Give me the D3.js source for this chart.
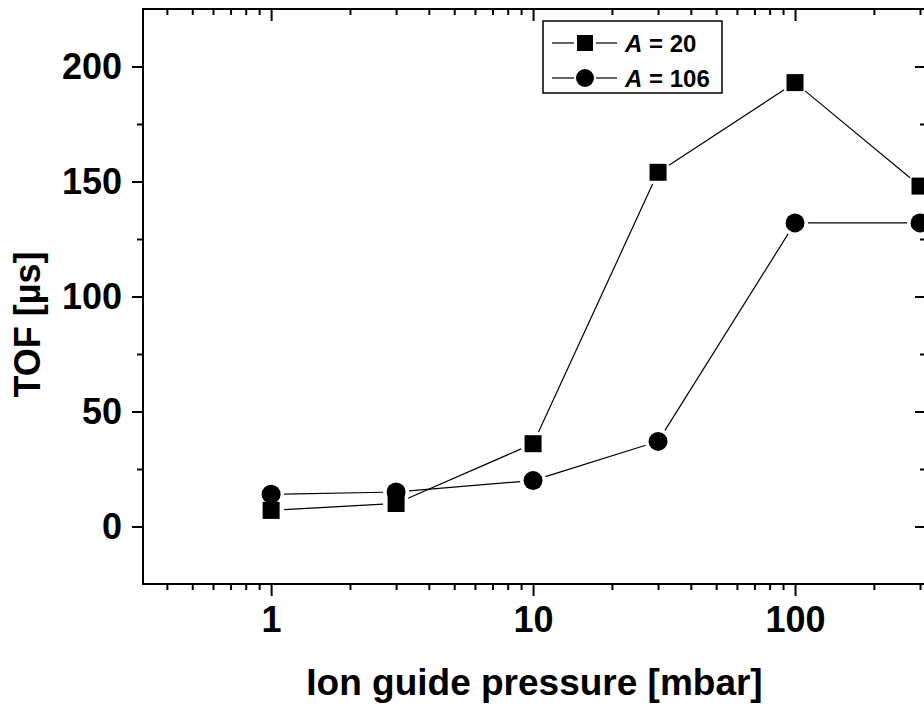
<!DOCTYPE html>
<html>
<head>
<meta charset="utf-8">
<script src="https://cdn.jsdelivr.net/npm/d3@7"></script>
<style>
  body { margin: 0; background: #fff; }
  svg { display: block; }
  text { font-family: "Liberation Sans", Arial, sans-serif; font-weight: bold; fill: #000; }
</style>
</head>
<body>
<div id="chart"></div>
<script>
// pressures (mbar) and TOF values (µs)
let pressure = [1, 3, 10, 30, 100, 300];
let tofA20 = [7, 10, 36, 154, 193, 148];
let tofA106 = [14, 15, 20, 37, 132, 132];

let xMajor = [1, 10, 100];
let xMinor = [0.4, 0.5, 0.6, 0.7, 0.8, 0.9, 2, 3, 4, 5, 6, 7, 8, 9,
  20, 30, 40, 50, 60, 70, 80, 90, 200, 300];
let yMajor = [0, 50, 100, 150, 200];
let yMinor = [25, 75, 125, 175];

let series = [
  { name: "20", values: tofA20, shape: "square" },
  { name: "106", values: tofA106, shape: "circle" }
];

let areaWidth = 924;
let areaHeight = 707;
let border = { top: 9, left: 143, right: 926, bottom: 584 };

let svg = d3.select("#chart").append("svg")
  .attr("width", areaWidth)
  .attr("height", areaHeight);

let x = d3.scaleLog().domain([0.3243, 316.2]).range([border.left, border.right]);
let y = d3.scaleLinear().domain([-25, 225]).range([border.bottom, border.top]);

function styleAxis(g) {
  g.select(".domain").remove();
  g.selectAll(".tick line").attr("stroke", "#000").attr("stroke-width", 2);
  g.selectAll(".tick text").style("font-size", "36px");
}

// bottom axis
svg.append("g").attr("transform", `translate(0,${border.bottom})`)
  .call(d3.axisBottom(x).tickValues(xMinor).tickSize(6).tickFormat(""))
  .call(styleAxis);
svg.append("g").attr("transform", `translate(0,${border.bottom})`)
  .call(d3.axisBottom(x).tickValues(xMajor).tickSize(12).tickPadding(10).tickFormat(d3.format("d")))
  .call(styleAxis);

// top axis, ticks inward
svg.append("g").attr("transform", `translate(0,${border.top})`)
  .call(d3.axisBottom(x).tickValues(xMinor).tickSize(6).tickFormat(""))
  .call(styleAxis);
svg.append("g").attr("transform", `translate(0,${border.top})`)
  .call(d3.axisBottom(x).tickValues(xMajor).tickSize(12).tickFormat(""))
  .call(styleAxis);

// left axis
svg.append("g").attr("transform", `translate(${border.left},0)`)
  .call(d3.axisLeft(y).tickValues(yMinor).tickSize(6).tickFormat(""))
  .call(styleAxis);
svg.append("g").attr("transform", `translate(${border.left},0)`)
  .call(d3.axisLeft(y).tickValues(yMajor).tickSize(11).tickPadding(10))
  .call(styleAxis);

// right axis, ticks inward
svg.append("g").attr("transform", `translate(${border.right},0)`)
  .call(d3.axisLeft(y).tickValues(yMinor).tickSize(6).tickFormat(""))
  .call(styleAxis);
svg.append("g").attr("transform", `translate(${border.right},0)`)
  .call(d3.axisLeft(y).tickValues(yMajor).tickSize(11).tickFormat(""))
  .call(styleAxis);

// frame
svg.append("rect")
  .attr("x", border.left).attr("y", border.top)
  .attr("width", border.right - border.left)
  .attr("height", border.bottom - border.top)
  .attr("fill", "none").attr("stroke", "#000").attr("stroke-width", 2);

// axis titles
svg.append("text")
  .attr("x", (border.left + border.right) / 2).attr("y", 695)
  .attr("text-anchor", "middle")
  .style("font-size", "37px")
  .text("Ion guide pressure [mbar]");

svg.append("text")
  .attr("transform", `translate(40,${(border.top + border.bottom) / 2 + 28})rotate(-90)`)
  .attr("text-anchor", "middle")
  .style("font-size", "36px")
  .text("TOF [µs]");

function drawMarker(g, shape, cx, cy, size) {
  if (shape === "square") {
    g.append("rect")
      .attr("x", cx - size / 2).attr("y", cy - size / 2)
      .attr("width", size).attr("height", size)
      .attr("fill", "#000");
  } else {
    g.append("circle")
      .attr("cx", cx).attr("cy", cy).attr("r", size / 2 + 1)
      .attr("fill", "#000");
  }
}

// lines with gaps at the markers, then the markers
let plotGroup = svg.append("g");
let gap = 13;
series.forEach(function(s) {
  let pts = pressure.map((p, i) => [x(p), y(s.values[i])]);
  for (let i = 0; i < pts.length - 1; i++) {
    let [x1, y1] = pts[i];
    let [x2, y2] = pts[i + 1];
    let len = Math.hypot(x2 - x1, y2 - y1);
    if (len <= 2 * gap) continue;
    let ux = (x2 - x1) / len, uy = (y2 - y1) / len;
    plotGroup.append("line")
      .attr("x1", x1 + ux * gap).attr("y1", y1 + uy * gap)
      .attr("x2", x2 - ux * gap).attr("y2", y2 - uy * gap)
      .attr("stroke", "#000").attr("stroke-width", 1.2);
  }
  pts.forEach(p => drawMarker(plotGroup, s.shape, p[0], p[1], 17));
});

// legend
let legend = svg.append("g");
legend.append("rect")
  .attr("x", 543).attr("y", 21).attr("width", 179).attr("height", 72)
  .attr("fill", "#fff").attr("stroke", "#000").attr("stroke-width", 1.5);

series.forEach(function(s, i) {
  let ly = 43 + i * 35;
  legend.append("line")
    .attr("x1", 552).attr("x2", 574).attr("y1", ly).attr("y2", ly)
    .attr("stroke", "#000").attr("stroke-width", 1.2);
  legend.append("line")
    .attr("x1", 596).attr("x2", 617).attr("y1", ly).attr("y2", ly)
    .attr("stroke", "#000").attr("stroke-width", 1.2);
  drawMarker(legend, s.shape, 585, ly, 16);
  let t = legend.append("text")
    .attr("x", 625).attr("y", ly + 8.5)
    .style("font-size", "24px");
  t.append("tspan").style("font-style", "italic").text("A");
  t.append("tspan").text(" = " + s.name);
});
</script>
</body>
</html>
